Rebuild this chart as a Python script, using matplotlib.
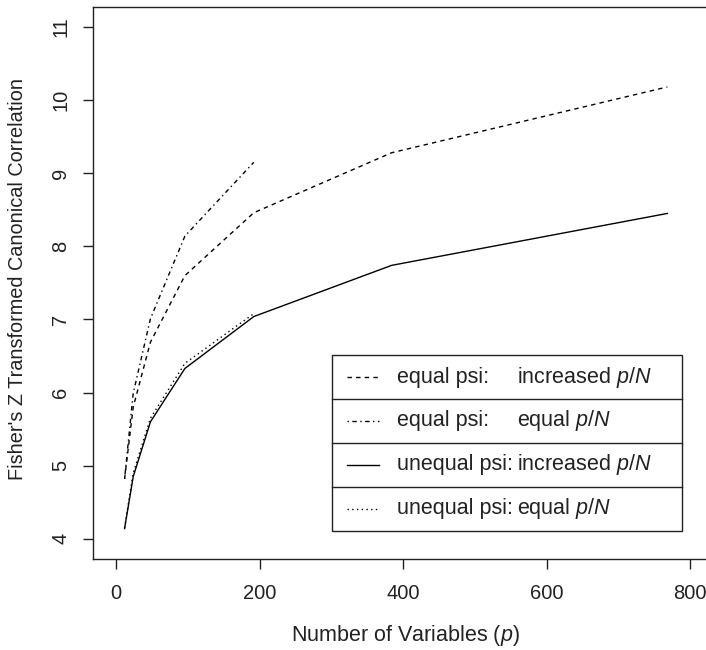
import numpy as np
import matplotlib
matplotlib.use("Agg")
import matplotlib.pyplot as plt
from matplotlib.patches import Rectangle

plt.rcParams['font.family'] = ['Liberation Sans', 'DejaVu Sans']
plt.rcParams['mathtext.fontset'] = 'custom'
plt.rcParams['mathtext.rm'] = 'Liberation Sans'
plt.rcParams['mathtext.it'] = 'Liberation Sans:italic'

# number of variables
p_all = [12, 24, 48, 96, 192, 384, 768]
p_short = [12, 24, 48, 96, 192]

# Fisher's Z transformed canonical correlation
eq_psi_inc = [4.82, 5.80, 6.69, 7.60, 8.46, 9.28, 10.18]
eq_psi_eq = [4.82, 5.99, 7.01, 8.14, 9.15]
uneq_psi_inc = [4.14, 4.85, 5.60, 6.33, 7.04, 7.74, 8.45]
uneq_psi_eq = [4.15, 4.90, 5.65, 6.40, 7.08]

labels_left = ["equal psi:", "equal psi:", "unequal psi:", "unequal psi:"]
labels_right = ["increased $p/N$", "equal $p/N$", "increased $p/N$", "equal $p/N$"]

x_ticks = [0, 200, 400, 600, 800]
y_ticks = [4, 5, 6, 7, 8, 9, 10, 11]

dash = (0, (3.2, 3.0))
dotdash = (0, (1, 2.5, 3.2, 2.5))
dotted = (0, (1, 2.4))
styles = [dash, dotdash, '-', dotted]

fig = plt.figure(figsize=(7.06, 6.5), dpi=100)
ax = fig.add_axes([93 / 706, 1 - 559.3 / 650, 620.3 / 706, 552.8 / 650])

lw = 1.0
ax.plot(p_all, eq_psi_inc, color='black', lw=lw, linestyle=dash)
ax.plot(p_short, eq_psi_eq, color='black', lw=lw, linestyle=dotdash)
ax.plot(p_all, uneq_psi_inc, color='black', lw=lw, linestyle='-')
ax.plot(p_short, uneq_psi_eq, color='black', lw=lw, linestyle=dotted)

ax.set_xlim(-32, 832)
ax.set_ylim(3.72, 11.28)
ax.set_xticks(x_ticks)
ax.set_yticks(y_ticks)
ax.set_yticklabels([str(v) for v in y_ticks], rotation=90, va='center')
ax.tick_params(axis='both', direction='out', length=7.5, width=1.0,
               labelsize=14.5, color='#222222', labelcolor='#222222')
ax.tick_params(axis='x', pad=10)
ax.tick_params(axis='y', pad=9)
for s in ax.spines.values():
    s.set_linewidth(1.0)
    s.set_color('#222222')

fig.text(405 / 706, 1 - 635 / 650, "Number of Variables ($p$)", ha='center', va='center',
         fontsize=15.5, color='#222222')
fig.text(18 / 706, 1 - 279 / 650, "Fisher's Z Transformed Canonical Correlation",
         ha='center', va='center', rotation=90, fontsize=14.3, color='#222222')

# legend box with row separators
def fx(px):
    return (px - 93) / 620.3

def fy(py):
    return (559.3 - py) / 552.8

x0, x1 = fx(331.7), fx(681.7)
edges = [355, 399, 442.7, 486.7, 530.7]
ax.add_patch(Rectangle((x0, fy(edges[-1])), x1 - x0, fy(edges[0]) - fy(edges[-1]),
                       transform=ax.transAxes, facecolor='white', edgecolor='#222222',
                       lw=1.0, zorder=5))
for e in edges[1:-1]:
    ax.plot([x0, x1], [fy(e), fy(e)], transform=ax.transAxes, color='#222222', lw=1.0,
            zorder=6)
for i in range(4):
    yc = fy((edges[i] + edges[i + 1]) / 2)
    ax.plot([fx(346.7), fx(379.3)], [yc, yc], transform=ax.transAxes, color='black',
            lw=lw, linestyle=styles[i], zorder=6)
    ax.text(fx(397), yc, labels_left[i], transform=ax.transAxes, ha='left', va='center',
            fontsize=15.5, color='#222222', zorder=7)
    ax.text(fx(517.3), yc, labels_right[i], transform=ax.transAxes, ha='left', va='center',
            fontsize=15.5, color='#222222', zorder=7)

fig.savefig('out.png', dpi=100)
